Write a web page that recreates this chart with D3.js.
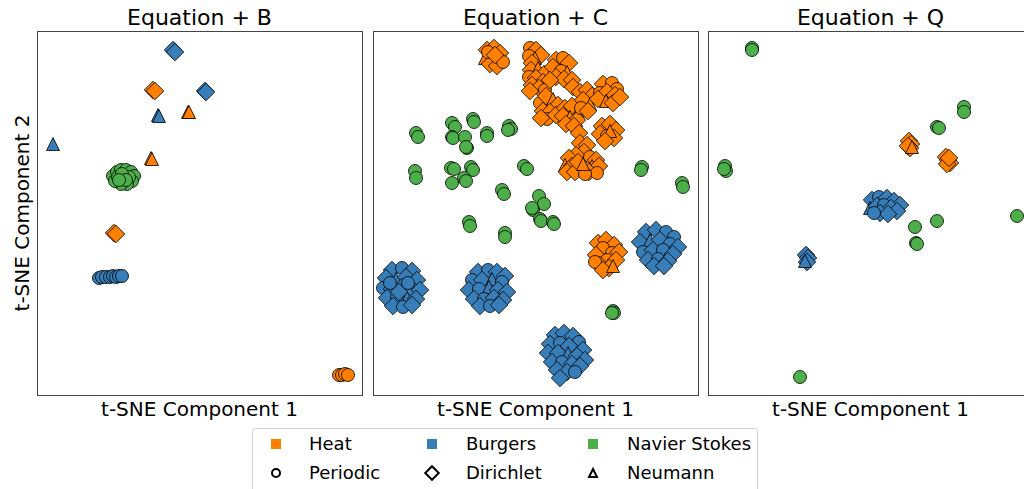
<!DOCTYPE html>
<html>
<head>
<meta charset="utf-8">
<script src="https://cdn.jsdelivr.net/npm/d3@7"></script>
<style>
  body { margin: 0; background: #fff; }
  svg { display: block; font-family: "DejaVu Sans", sans-serif; }
</style>
</head>
<body>
<div id="chart"></div>
<script>
var panelTitles = ["Equation + B", "Equation + C", "Equation + Q"];
var equations = ["Heat", "Burgers", "Navier Stokes"];
var boundaries = ["Periodic", "Dirichlet", "Neumann"];
var xLabel = "t-SNE Component 1";
var yLabel = "t-SNE Component 2";

// [tsne1, tsne2, equation, boundary]  H=Heat B=Burgers NS=Navier Stokes / P D N
var pointsB = [
  [54.4,138.0,"B","D"],[55.2,137.2,"B","D"],
  [46.4,122.0,"H","D"],[47.2,121.6,"H","D"],
  [67.2,121.6,"B","D"],[67.6,121.2,"B","D"],
  [48.4,112.0,"B","N"],[48.8,111.6,"B","N"],
  [60.4,113.2,"H","N"],[60.8,113.2,"H","N"],
  [6.4,100.4,"B","N"],
  [45.6,94.8,"H","N"],[46.0,94.4,"H","N"],
  [30.4,87.6,"NS","P"],[32.0,89.2,"NS","P"],[33.6,90.0,"NS","P"],[35.6,90.0,"NS","P"],
  [37.6,89.2,"NS","P"],[38.8,87.6,"NS","P"],[38.0,85.6,"NS","P"],[36.0,84.4,"NS","P"],
  [33.6,84.4,"NS","P"],[31.2,85.6,"NS","P"],[32.4,87.2,"NS","P"],[34.8,87.6,"NS","P"],
  [36.8,87.2,"NS","P"],[34.0,88.4,"NS","P"],[35.6,86.0,"NS","P"],[32.8,86.0,"NS","P"],
  [30.8,64.8,"H","D"],[31.6,64.4,"H","D"],
  [24.8,46.8,"B","P"],[26.0,47.2,"B","P"],[27.6,47.2,"B","P"],[29.2,47.2,"B","P"],
  [30.4,47.6,"B","P"],[31.6,47.2,"B","P"],[32.8,47.6,"B","P"],[34.0,47.6,"B","P"],
  [120.8,8.0,"H","P"],[122.0,8.0,"H","P"],[123.2,8.4,"H","P"],[124.4,8.0,"H","P"]
];

var pointsC = [
  // Heat clusters
  [45.6,138.0,"H","D"],[48.4,138.8,"H","D"],[50.8,136.8,"H","D"],[44.8,134.8,"H","N"],
  [47.6,135.2,"H","N"],[50.4,134.0,"H","P"],[46.8,132.4,"H","D"],[49.6,131.6,"H","D"],
  [52.0,133.2,"H","P"],[46.0,137.2,"H","P"],[48.8,136.0,"H","D"],
  [62.8,138.8,"H","P"],[65.2,138.0,"H","D"],[67.2,136.0,"H","D"],[62.4,135.6,"H","P"],
  [64.8,134.8,"H","N"],[63.6,132.8,"H","D"],
  [63.2,130.0,"H","D"],[66.0,130.8,"H","N"],[68.4,128.4,"H","D"],[62.4,127.2,"H","P"],
  [65.2,126.8,"H","D"],[68.0,125.2,"H","D"],[63.6,124.0,"H","D"],[66.4,122.8,"H","D"],
  [62.8,121.6,"H","D"],[68.8,122.0,"H","P"],
  [73.2,134.0,"H","D"],[76.0,134.8,"H","P"],[78.4,132.8,"H","D"],[72.0,131.2,"H","D"],
  [75.2,129.6,"H","P"],[77.6,129.2,"H","N"],[73.2,127.2,"H","D"],[76.4,126.4,"H","D"],
  [79.6,126.0,"H","D"],[80.0,123.2,"H","D"],[70.8,126.0,"H","D"],
  [66.8,116.8,"H","P"],[69.2,119.6,"H","D"],[72.0,118.4,"H","N"],[74.0,116.0,"H","D"],
  [68.0,113.6,"H","D"],[70.8,113.2,"H","D"],[69.6,110.4,"H","P"],[73.2,112.0,"H","D"],
  [67.2,110.8,"H","D"],
  [76.8,114.8,"H","D"],[79.6,115.6,"H","D"],[82.0,113.2,"H","N"],[76.0,111.6,"H","D"],
  [78.8,111.2,"H","N"],[81.6,110.0,"H","D"],[77.2,108.4,"H","D"],[80.4,107.6,"H","D"],
  [82.8,121.2,"H","D"],[85.6,122.0,"H","D"],[87.6,119.6,"H","D"],[84.0,118.0,"H","D"],
  [86.8,116.4,"H","N"],[83.2,114.8,"H","P"],[86.0,113.6,"H","D"],
  [92.0,124.4,"H","D"],[95.6,124.8,"H","P"],[97.6,122.4,"H","P"],[90.8,120.8,"H","P"],
  [93.6,121.2,"H","D"],[96.8,120.0,"H","D"],[90.0,118.4,"H","D"],[93.2,117.6,"H","N"],
  [96.0,116.8,"H","D"],[98.8,119.2,"H","D"],
  [91.6,107.6,"H","D"],[94.8,108.4,"H","D"],[97.2,106.0,"H","D"],[90.8,104.4,"H","D"],
  [93.6,103.6,"H","P"],[96.4,102.8,"H","D"],[94.8,105.6,"H","N"],[92.8,101.6,"H","D"],
  [82.4,104.8,"H","D"],
  [82.8,100.8,"H","D"],[85.6,100.0,"H","D"],[84.4,97.2,"H","D"],[81.2,96.0,"H","D"],
  [78.4,94.8,"H","D"],[76.8,92.0,"H","N"],[79.6,91.6,"H","D"],[77.6,89.2,"H","D"],
  [80.8,89.2,"H","D"],[86.8,95.2,"H","P"],[89.2,94.0,"H","D"],[87.6,91.6,"H","N"],
  [90.4,91.6,"H","D"],[86.4,89.2,"H","D"],[89.6,88.8,"H","P"],[84.8,88.4,"H","P"],
  [82.0,93.2,"H","D"],[84.0,92.4,"H","N"],
  [90.0,60.8,"H","D"],[93.2,62.0,"H","D"],[96.4,60.0,"H","D"],[92.0,58.8,"H","P"],
  [95.6,56.8,"H","P"],[98.4,57.2,"H","D"],[89.2,56.0,"H","D"],[93.6,54.0,"H","P"],
  [97.2,54.0,"H","D"],[90.8,52.0,"H","D"],[94.4,50.8,"H","D"],[88.8,53.2,"H","P"],
  [92.0,50.0,"H","D"],[96.0,51.6,"H","N"],
  // Navier Stokes groups
  [17.2,104.8,"NS","P"],[18.0,103.2,"NS","P"],[31.6,108.8,"NS","P"],[32.8,107.2,"NS","P"],
  [40.0,110.4,"NS","P"],[40.4,109.2,"NS","P"],[31.6,103.2,"NS","P"],[32.0,102.8,"NS","P"],
  [36.8,103.2,"NS","P"],[37.6,98.8,"NS","P"],[37.2,99.2,"NS","P"],[45.6,104.8,"NS","P"],
  [45.6,103.6,"NS","P"],[54.4,107.6,"NS","P"],[55.2,106.4,"NS","P"],[54.0,106.0,"NS","P"],
  [16.8,89.6,"NS","P"],[17.2,86.8,"NS","P"],[31.2,90.8,"NS","P"],[32.4,90.4,"NS","P"],
  [39.2,91.2,"NS","P"],[40.0,90.0,"NS","P"],[36.4,86.8,"NS","P"],[37.2,85.6,"NS","P"],
  [31.6,84.8,"NS","P"],[60.4,91.6,"NS","P"],[61.6,90.4,"NS","P"],[51.6,82.0,"NS","P"],
  [52.4,80.4,"NS","P"],[66.4,79.6,"NS","P"],[68.4,76.4,"NS","P"],[64.0,74.0,"NS","P"],
  [63.6,74.8,"NS","P"],[66.8,70.4,"NS","P"],[67.2,69.6,"NS","P"],[72.0,69.2,"NS","P"],
  [72.4,68.4,"NS","P"],[38.4,69.2,"NS","P"],[38.8,67.6,"NS","P"],[52.8,64.8,"NS","P"],
  [52.8,63.2,"NS","P"],[107.6,91.2,"NS","P"],[107.2,90.0,"NS","P"],[123.6,84.8,"NS","P"],
  [124.0,83.2,"NS","P"],[96.0,33.6,"NS","P"],[96.4,32.8,"NS","P"],[95.6,32.8,"NS","P"],
  // Burgers clusters
  [7.6,50.0,"B","D"],[11.6,50.8,"B","P"],[15.6,49.6,"B","D"],[5.2,46.8,"B","D"],
  [9.2,46.4,"B","N"],[13.2,47.2,"B","D"],[17.6,46.0,"B","D"],[4.0,42.8,"B","P"],
  [7.6,42.4,"B","D"],[11.6,43.2,"B","D"],[15.6,42.4,"B","P"],[18.8,42.0,"B","D"],
  [5.6,38.8,"B","D"],[9.6,39.2,"B","P"],[13.6,38.8,"B","N"],[17.2,38.4,"B","D"],
  [8.0,35.6,"B","D"],[12.0,35.2,"B","P"],[15.6,36.0,"B","D"],[10.4,41.2,"B","D"],
  [14.0,44.8,"B","P"],[6.8,44.8,"B","P"],
  [42.0,49.2,"B","D"],[46.0,50.0,"B","P"],[49.6,49.2,"B","D"],[52.8,47.6,"B","D"],
  [39.6,46.0,"B","P"],[43.6,46.0,"B","D"],[47.6,46.4,"B","N"],[51.6,45.2,"B","P"],
  [38.4,42.0,"B","D"],[42.4,42.4,"B","P"],[46.4,43.2,"B","N"],[50.0,42.0,"B","D"],
  [53.6,41.2,"B","D"],[40.4,38.4,"B","D"],[44.4,38.4,"B","P"],[48.4,38.8,"B","D"],
  [52.0,38.0,"B","D"],[42.8,35.6,"B","D"],[46.8,35.6,"B","P"],[50.4,36.0,"B","D"],
  [109.2,65.2,"B","D"],[113.2,66.0,"B","D"],[117.2,65.2,"B","P"],[120.4,63.2,"B","P"],
  [106.8,61.2,"B","D"],[110.8,62.0,"B","N"],[114.8,62.0,"B","D"],[118.8,60.4,"B","P"],
  [122.0,59.2,"B","D"],[108.0,57.2,"B","P"],[112.0,58.0,"B","D"],[116.0,58.0,"B","P"],
  [120.0,56.4,"B","D"],[110.0,54.0,"B","D"],[114.0,54.4,"B","P"],[118.0,53.6,"B","D"],
  [112.4,51.6,"B","D"],[116.4,51.6,"B","D"],
  [72.8,24.0,"B","D"],[76.4,24.8,"B","D"],[80.0,23.6,"B","D"],[82.4,21.2,"B","P"],
  [70.8,20.4,"B","D"],[74.8,20.8,"B","P"],[78.4,19.6,"B","D"],[84.0,18.0,"B","D"],
  [70.0,16.8,"B","D"],[74.0,16.8,"B","D"],[78.0,16.8,"B","N"],[81.6,15.6,"B","D"],
  [84.8,14.0,"B","D"],[71.6,13.2,"B","D"],[75.6,13.2,"B","P"],[79.6,12.4,"B","D"],
  [82.8,11.6,"B","D"],[73.6,10.0,"B","D"],[77.6,9.2,"B","D"],[74.8,6.8,"B","D"],
  [80.8,9.2,"B","P"]
];

var pointsQ = [
  [17.6,138.8,"NS","P"],[17.6,138.0,"NS","P"],
  [6.8,91.6,"NS","P"],[7.2,89.6,"NS","P"],[6.4,90.4,"NS","P"],
  [36.8,7.2,"NS","P"],
  [39.2,56.0,"B","D"],[40.0,54.8,"B","D"],[39.6,53.2,"B","D"],[38.8,53.6,"B","N"],
  [65.6,78.0,"B","D"],[68.4,79.2,"B","P"],[71.6,78.8,"B","D"],[74.4,77.6,"B","D"],
  [76.8,76.0,"B","D"],[64.8,74.8,"B","N"],[67.6,75.6,"B","D"],[70.4,76.0,"B","P"],
  [73.2,74.8,"B","D"],[75.6,73.6,"B","D"],[68.8,72.8,"B","D"],[72.0,72.4,"B","D"],
  [66.4,72.8,"B","P"],
  [80.4,101.6,"H","D"],[81.2,100.4,"H","D"],[80.8,98.8,"H","D"],[80.0,99.6,"H","D"],
  [81.6,99.2,"H","N"],
  [95.2,95.2,"H","D"],[96.0,94.0,"H","D"],[96.8,92.8,"H","D"],[95.6,92.4,"H","D"],
  [96.4,94.8,"H","D"],
  [91.6,107.2,"NS","P"],[92.4,106.8,"NS","P"],
  [102.4,115.2,"NS","P"],[102.4,113.2,"NS","P"],
  [82.8,67.2,"NS","P"],[91.6,69.6,"NS","P"],
  [83.2,60.8,"NS","P"],[83.6,60.4,"NS","P"],
  [123.6,71.6,"NS","P"]
];

var panelData = [pointsB, pointsC, pointsQ];
var eqKeys = ["H", "B", "NS"];
var bcKeys = ["P", "D", "N"];
var eqColor = { H: "#ff7f00", B: "#377eb8", NS: "#4daf4a" };

var width = 1024, height = 489;
var panelW = 325, panelH = 364, panelTop = 31;
var panelLeft = [37, 373, 708];

var svg = d3.select("#chart").append("svg")
  .attr("width", width)
  .attr("height", height);

// matplotlib-like marker outlines
function markerPath(bc, r) {
  if (bc === "P") {
    return "M" + r + ",0A" + r + "," + r + " 0 1,1 " + (-r) + ",0A" + r + "," + r + " 0 1,1 " + r + ",0Z";
  }
  if (bc === "D") {
    var d = r * 1.35;
    return "M0," + (-d) + "L" + d + ",0L0," + d + "L" + (-d) + ",0Z";
  }
  return "M0," + (-r) + "L" + r + "," + r + "L" + (-r) + "," + r + "Z";
}

panelData.forEach(function(pts, i) {
  var x = d3.scaleLinear().domain([0, 130]).range([0, panelW]);
  var y = d3.scaleLinear().domain([0, 145.6]).range([panelH, 0]);

  var g = svg.append("g")
    .attr("transform", "translate(" + panelLeft[i] + "," + panelTop + ")");

  g.append("g").selectAll("path")
    .data(pts)
    .enter().append("path")
      .attr("transform", function(d) { return "translate(" + x(d[0]) + "," + y(d[1]) + ")"; })
      .attr("d", function(d) { return markerPath(d[3], 6.5); })
      .attr("fill", function(d) { return eqColor[d[2]]; })
      .attr("stroke", "#000")
      .attr("stroke-width", 0.8);

  g.append("rect")
    .attr("x", 0.5).attr("y", 0.5)
    .attr("width", panelW).attr("height", panelH)
    .attr("fill", "none")
    .attr("stroke", "#444")
    .attr("stroke-width", 1);

  g.append("text")
    .attr("x", panelW / 2).attr("y", -6)
    .attr("text-anchor", "middle")
    .attr("font-size", 22)
    .text(panelTitles[i]);

  g.append("text")
    .attr("x", panelW / 2).attr("y", panelH + 21)
    .attr("text-anchor", "middle")
    .attr("font-size", 20)
    .text(xLabel);
});

svg.append("text")
  .attr("transform", "translate(29," + (panelTop + panelH / 2) + ") rotate(-90)")
  .attr("text-anchor", "middle")
  .attr("font-size", 20)
  .text(yLabel);

// legend
var legend = svg.append("g").attr("transform", "translate(252,428)");
legend.append("rect")
  .attr("x", 0.5).attr("y", 0.5)
  .attr("width", 505).attr("height", 80)
  .attr("rx", 3)
  .attr("fill", "#fff")
  .attr("stroke", "#d0d0d0");

var colX = [24, 180, 341];
var textX = [57, 214, 375];

eqKeys.forEach(function(k, i) {
  legend.append("rect")
    .attr("x", colX[i] - 5).attr("y", 16 - 5)
    .attr("width", 10).attr("height", 10)
    .attr("fill", eqColor[k]);
  legend.append("text")
    .attr("x", textX[i]).attr("y", 22)
    .attr("font-size", 18)
    .text(equations[i]);
});

bcKeys.forEach(function(k, i) {
  legend.append("path")
    .attr("transform", "translate(" + colX[i] + ",45)")
    .attr("d", markerPath(k, k === "D" ? 5 : 4))
    .attr("fill", "none")
    .attr("stroke", "#000")
    .attr("stroke-width", 2);
  legend.append("text")
    .attr("x", textX[i]).attr("y", 51)
    .attr("font-size", 18)
    .text(boundaries[i]);
});
</script>
</body>
</html>
